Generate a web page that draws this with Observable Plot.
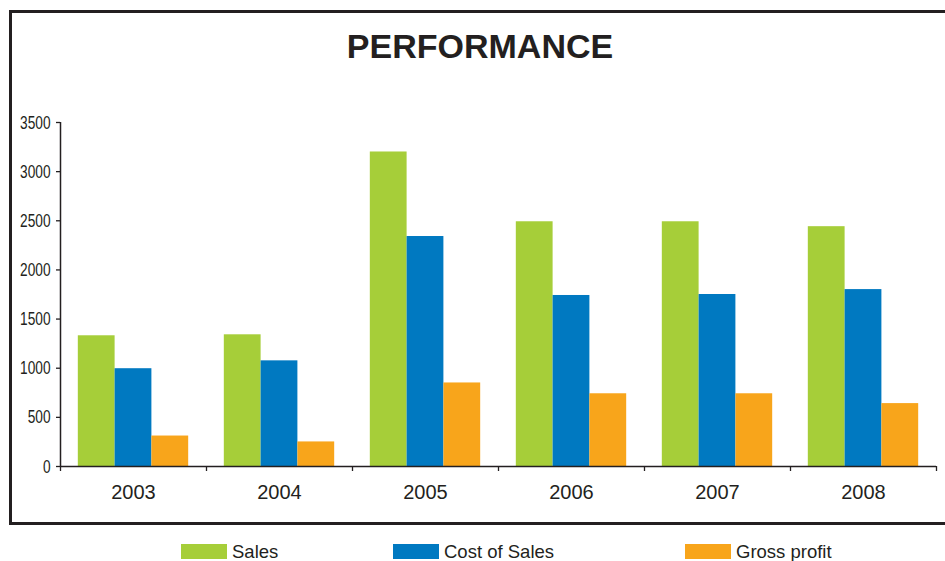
<!DOCTYPE html>
<html>
<head>
<meta charset="utf-8">
<script src="https://cdn.jsdelivr.net/npm/d3@7"></script>
<script src="https://cdn.jsdelivr.net/npm/@observablehq/plot@0.6"></script>
<style>
  html, body { margin: 0; padding: 0; background: #fff; overflow: hidden; }
  body { width: 945px; height: 561px; position: relative; font-family: "Liberation Sans", Arial, sans-serif; color: #231f20; }
  #frame { position: absolute; left: 9px; top: 10px; width: 960px; height: 509px; border: 3px solid #231f20; border-right: none; box-sizing: content-box; }
  #title { position: absolute; left: 0; width: 960px; top: 29px; text-align: center; font-size: 34px; line-height: 34px; font-weight: bold; }
  #chart { position: absolute; left: 0; top: 0; }
  .legend-item { position: absolute; top: 542px; height: 19px; display: flex; align-items: center; font-size: 18.5px; white-space: nowrap; }
  .swatch { width: 46px; height: 15px; margin-right: 5px; }
</style>
</head>
<body>
<div id="frame"></div>
<div id="title">PERFORMANCE</div>
<div id="chart"></div>
<div id="legend"></div>
<script>
const years = ["2003", "2004", "2005", "2006", "2007", "2008"];
const series = ["Sales", "Cost of Sales", "Gross profit"];
const sales = [1330, 1340, 3200, 2490, 2490, 2440];
const costOfSales = [995, 1075, 2340, 1740, 1750, 1800];
const grossProfit = [310, 250, 850, 740, 740, 640];
const colors = ["#a6ce39", "#0079c1", "#f8a51b"];
const yTicks = [0, 500, 1000, 1500, 2000, 2500, 3000, 3500];

const valuesBySeries = [sales, costOfSales, grossProfit];
const table = years.flatMap((year, i) =>
  valuesBySeries.map((vals, j) => ({ year, i, j, series: series[j], value: vals[i] }))
);

const barW = 0.252;
const pad = (1 - 3 * barW) / 2;
const ink = "#231f20";

const chart = Plot.plot({
  width: 945,
  height: 520,
  marginLeft: 60,
  marginRight: 9,
  marginTop: 122,
  marginBottom: 54,
  style: { background: "none", color: ink, overflow: "visible" },
  x: { domain: [0, years.length] },
  y: { domain: [0, 3500] },
  color: { domain: series, range: colors },
  marks: [
    Plot.rectY(table, {
      x1: d => d.i + pad + d.j * barW,
      x2: d => d.i + pad + (d.j + 1) * barW,
      y1: 0,
      y2: "value",
      fill: "series"
    }),
    Plot.ruleY([0], { stroke: ink, strokeWidth: 1.5 }),
    Plot.ruleX([0], { stroke: ink, strokeWidth: 1.5 }),
    Plot.axisY({
      ticks: yTicks, tickSize: 4, tickPadding: 6, label: null, tickFormat: d => String(d),
      fontSize: 19, fontFamily: "'Liberation Sans', Arial, sans-serif", strokeWidth: 1.3
    }),
    Plot.axisX({
      ticks: d3.range(0, years.length + 1), tickSize: 5, tickFormat: () => "", label: null,
      strokeWidth: 1.3
    }),
    Plot.axisX({
      ticks: years.map((_, i) => i + 0.5), tickSize: 0, tickPadding: 18, label: null,
      tickFormat: v => years[Math.floor(v)],
      fontSize: 20, fontFamily: "'Liberation Sans', Arial, sans-serif"
    })
  ]
});
document.getElementById("chart").appendChild(chart);

// condense the y tick labels (the reference uses a narrow face)
chart.querySelectorAll('g[aria-label="y-axis tick label"] text').forEach(t => {
  const len = t.getComputedTextLength();
  t.setAttribute("textLength", (len * 0.72).toFixed(2));
  t.setAttribute("lengthAdjust", "spacingAndGlyphs");
});

const legendX = [181, 393, 685];
const legend = document.getElementById("legend");
series.forEach((s, k) => {
  const item = document.createElement("div");
  item.className = "legend-item";
  item.style.left = legendX[k] + "px";
  const sw = document.createElement("div");
  sw.className = "swatch";
  sw.style.background = colors[k];
  const label = document.createElement("span");
  label.textContent = s;
  item.appendChild(sw);
  item.appendChild(label);
  legend.appendChild(item);
});
</script>
</body>
</html>
